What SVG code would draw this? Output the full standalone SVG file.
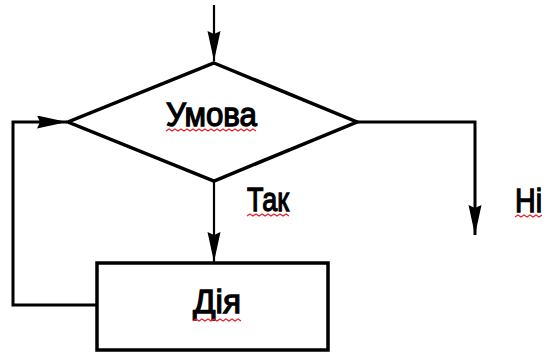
<svg xmlns="http://www.w3.org/2000/svg" width="549" height="354" viewBox="0 0 549 354">
  <style>
    .shape { fill: #ffffff; stroke: #000000; stroke-width: 3.5; }
    .flow { fill: none; stroke: #000000; stroke-width: 3; }
    .thin { stroke-width: 2.2; }
    .label { font-family: "Liberation Sans", Arial, sans-serif; font-size: 34px; fill: #000000; stroke: #000000; stroke-width: 1.3; }
    .spell { fill: none; stroke: #e8202a; stroke-width: 1.2; }
  </style>
  <defs>
    <marker id="arrow" markerUnits="userSpaceOnUse" markerWidth="32" markerHeight="14" refX="30" refY="6.5" orient="auto">
      <path d="M0,0 L30,6.5 L0,13 L3,6.5 Z" fill="#000000"/>
    </marker>
  </defs>

  <g id="connectors">
    <!-- entry -->
    <line class="flow thin" x1="214" y1="5" x2="214" y2="61" marker-end="url(#arrow)"/>
    <!-- yes branch -->
    <line class="flow thin" x1="214" y1="181" x2="214" y2="262" marker-end="url(#arrow)"/>
    <!-- no branch -->
    <polyline class="flow" points="357,122 475,122 475,235" marker-end="url(#arrow)"/>
    <!-- loop back -->
    <polyline class="flow" points="97,305 13,305 13,122 67,122" marker-end="url(#arrow)"/>
  </g>

  <g id="condition">
    <polygon class="shape" points="214,63 357,122 214,181 68,122"/>
    <text class="label" x="166" y="126" textLength="91" lengthAdjust="spacingAndGlyphs">Умова</text>
    <path class="spell" d="M166,131 l3,-2 l3,2 l3,-2 l3,2 l3,-2 l3,2 l3,-2 l3,2 l3,-2 l3,2 l3,-2 l3,2 l3,-2 l3,2 l3,-2 l3,2 l3,-2 l3,2 l3,-2 l3,2 l3,-2 l3,2 l3,-2 l3,2 l3,-2 l3,2 l3,-2 l3,2 l3,-2 l3,2"/>
  </g>

  <g id="action">
    <rect class="shape" x="97" y="263" width="231" height="87"/>
    <text class="label" x="193" y="313" textLength="48" lengthAdjust="spacingAndGlyphs">Дія</text>
    <path class="spell" d="M193,321 l3,-2 l3,2 l3,-2 l3,2 l3,-2 l3,2 l3,-2 l3,2 l3,-2 l3,2 l3,-2 l3,2 l3,-2 l3,2 l3,-2 l3,2"/>
  </g>

  <g id="label-yes">
    <text class="label" x="247" y="211" textLength="42" lengthAdjust="spacingAndGlyphs">Так</text>
    <path class="spell" d="M247,216 l3,-2 l3,2 l3,-2 l3,2 l3,-2 l3,2 l3,-2 l3,2 l3,-2 l3,2 l3,-2 l3,2 l3,-2 l3,2"/>
  </g>

  <g id="label-no">
    <text class="label" x="515" y="212" textLength="27" lengthAdjust="spacingAndGlyphs">Ні</text>
    <path class="spell" d="M515,217 l3,-2 l3,2 l3,-2 l3,2 l3,-2 l3,2 l3,-2 l3,2 l3,-2"/>
  </g>
</svg>
